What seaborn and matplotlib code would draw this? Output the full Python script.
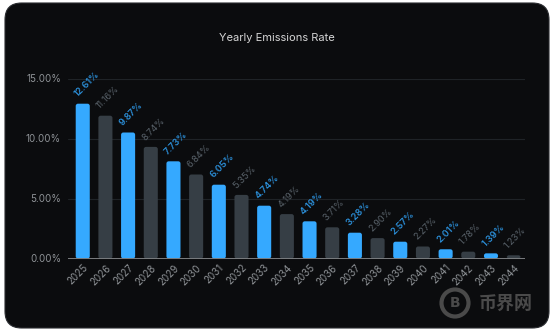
import matplotlib
matplotlib.use("Agg")
import matplotlib.pyplot as plt
from matplotlib.patches import FancyBboxPatch, Ellipse
import seaborn as sns
import pandas as pd

years = [str(y) for y in range(2025, 2045)]
bar_values = [12.9, 11.9, 10.5, 9.3, 8.1, 7.0, 6.15, 5.3, 4.4, 3.7,
              3.1, 2.6, 2.15, 1.7, 1.4, 1.0, 0.77, 0.57, 0.43, 0.27]
label_texts = ["12.61%", "11.16%", "9.87%", "8.74%", "7.73%", "6.84%", "6.05%", "5.35%",
               "4.74%", "4.19%", "4.19%", "3.71%", "3.28%", "2.90%", "2.57%", "2.27%",
               "2.01%", "1.78%", "1.39%", "1.23%"]
y_ticks = [0, 5, 10, 15]
y_tick_labels = ["0.00%", "5.00%", "10.00%", "15.00%"]
title = "Yearly Emissions Rate"

BLUE = "#35a9ff"
GRAY = "#363e45"
BLUE_TXT = "#2b8fd9"
GRAY_TXT = "#59626a"

sns.set_style("dark")
plt.rcParams['font.family'] = ['Inter', 'Noto Sans CJK SC', 'DejaVu Sans']

fig = plt.figure(figsize=(5.54, 3.31), dpi=100)
fig.patch.set_facecolor("white")
card = FancyBboxPatch((5 / 554, 3 / 331), 544 / 554, 325 / 331,
                      boxstyle="round,pad=0,rounding_size=0.03",
                      transform=fig.transFigure, facecolor="#0b0c0e",
                      edgecolor="#2a2c30", linewidth=0.8, mutation_aspect=554 / 331,
                      zorder=-10)
fig.patches.append(card)

ax = fig.add_axes([68 / 554, 72.5 / 331, 457 / 554, 180 / 331])
ax.set_facecolor("none")
ax.set_zorder(5)

df = pd.DataFrame({"year": years, "value": bar_values})
palette = [BLUE if i % 2 == 0 else GRAY for i in range(len(years))]
sns.barplot(data=df, x="year", y="value", hue="year", palette=palette,
            width=0.62, legend=False, ax=ax, saturation=1)

# round the bar tops
for p in list(ax.patches):
    x, y = p.get_x(), p.get_y()
    w, h = p.get_width(), p.get_height()
    fc = p.get_facecolor()
    p.remove()
    rb = FancyBboxPatch((x, y), w, h, boxstyle="round,pad=0,rounding_size=0.1",
                        mutation_aspect=1.9, facecolor=fc, edgecolor="none", zorder=2)
    ax.add_patch(rb)

ax.set_xlim(-0.65, 19.5)
ax.set_ylim(0, 15)
ax.set_yticks(y_ticks)
ax.set_yticklabels(y_tick_labels)
ax.grid(axis="y", color="#1f2327", linewidth=0.8)
ax.grid(axis="x", visible=False)
ax.axhline(0, color="#7a7d80", linewidth=1.4, zorder=3)
for s in ax.spines.values():
    s.set_visible(False)
ax.tick_params(axis="y", colors="#8e9296", labelsize=7, length=0, pad=5)
ax.tick_params(axis="x", colors="#8e9296", labelsize=7, length=0, pad=3)
for lbl in ax.get_xticklabels():
    lbl.set_rotation(45)
    lbl.set_ha("right")
    lbl.set_rotation_mode("anchor")
ax.set_xlabel("")
ax.set_ylabel("")

for i, (v, t) in enumerate(zip(bar_values, label_texts)):
    ax.annotate(t, (i, v), xytext=(-3.0, 3.5), textcoords="offset points",
                rotation=45, rotation_mode="anchor", ha="left", va="bottom",
                fontsize=6.6, color=BLUE_TXT if i % 2 == 0 else GRAY_TXT,
                fontweight="semibold" if i % 2 == 0 else "normal",
                annotation_clip=False)

fig.text(0.5, 1 - 38 / 331, title, ha="center", va="center", color="#d6d6d6", fontsize=8)

# faint watermark
fig.patches.append(Ellipse((455 / 554, 1 - 303 / 331), 27 / 554, 27 / 331,
                           transform=fig.transFigure, facecolor="none",
                           edgecolor="#4a4a4a", linewidth=3, zorder=-5))
fig.text(455 / 554, 1 - 303 / 331, "B", ha="center", va="center", color="#4a4a4a",
         fontsize=10, fontweight="bold", family=["DejaVu Sans"])
fig.text(506 / 554, 1 - 303 / 331, "币界网", ha="center", va="center", color="#4a4a4a",
         fontsize=13, fontweight="bold", family=["Noto Sans CJK SC", "DejaVu Sans"])

fig.savefig("out.png", dpi=100, facecolor=fig.get_facecolor())
